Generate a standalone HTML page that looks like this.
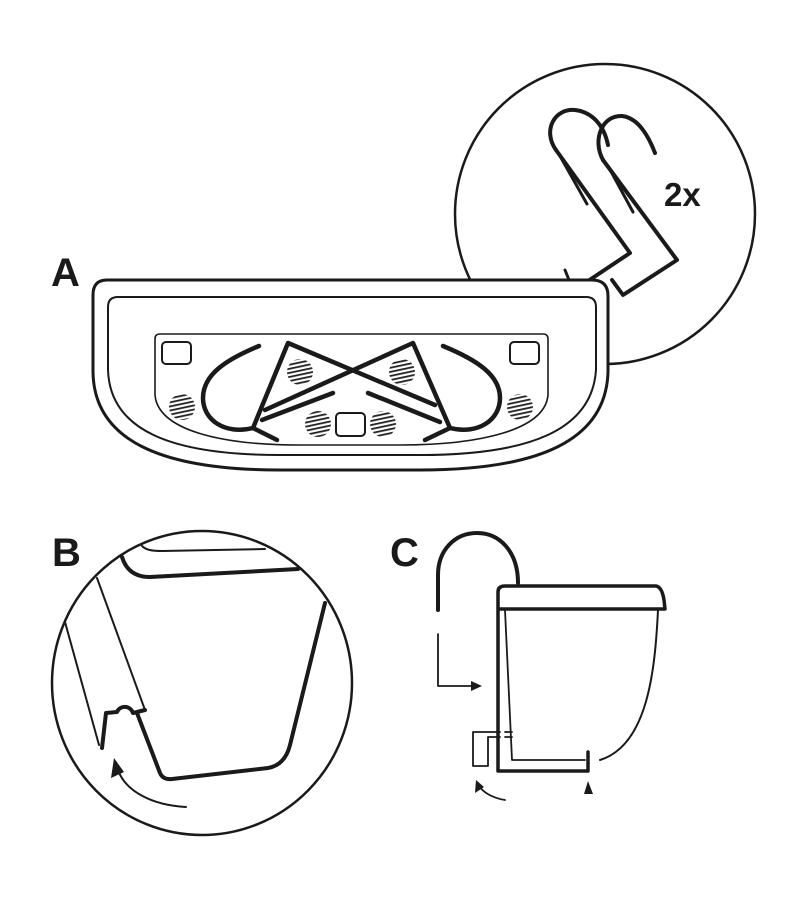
<!DOCTYPE html>
<html><head><meta charset="utf-8"><style>
html,body{margin:0;padding:0;background:#fff}
svg{display:block}
text{font-family:"Liberation Sans",sans-serif;font-weight:bold;fill:#1a1a1a}
</style></head><body>
<svg width="800" height="900" viewBox="0 0 800 900" xmlns="http://www.w3.org/2000/svg">
<defs>
<pattern id="h" width="4" height="4" patternUnits="userSpaceOnUse" patternTransform="rotate(-12)">
<rect width="4" height="1.8" fill="#222"/>
</pattern>
</defs>
<g fill="none" stroke="#1a1a1a" stroke-linecap="round" stroke-linejoin="round">
<circle cx="605" cy="214" r="150" stroke-width="2.5"/>
<path d="M556,150 C542,130 555,108 575,110 C592,112 604,125 608,145" stroke-width="4"/>
<path d="M556,150 L630,253 L585,283" stroke-width="4"/>
<path d="M560,156 L587,204" stroke-width="3"/>
<path d="M603,160 C592,140 602,115 622,116 C640,118 650,140 655,153" stroke-width="4"/>
<path d="M603,160 L677,260 L623,295 L612,280" stroke-width="4"/>
<path d="M608,166 L633,212" stroke-width="3"/>
<path d="M565,270 L569,280" stroke-width="3"/>
<path d="M107,280 L592,280 Q608,280 608,296 L608,372 C606,440 540,470 420,470 L280,470 C160,470 94,440 93,372 L93,295 Q93,280 107,280 Z" fill="#fff" stroke-width="3"/>
<path d="M118,297 L586,297 Q596,297 596,307 L596,370 C592,430 530,455 420,455 L280,455 C170,455 110,430 108,370 L108,307 Q108,297 118,297 Z" stroke-width="2"/>
<path d="M160,334 L543,334 Q548,334 548,339 L548,395 C545,430 480,445 400,445 L300,445 C220,445 158,430 155,395 L155,339 Q155,334 160,334 Z" stroke-width="1.6"/>
<rect x="162" y="342" width="29" height="22" rx="4" stroke-width="2"/>
<rect x="510" y="342" width="29" height="22" rx="4" stroke-width="2"/>
<rect x="336" y="413" width="29" height="23" rx="4" stroke-width="2"/>
<path d="M259,346 C225,360 203,375 203,398 C203,420 225,435 253,428" stroke-width="4.5"/>
<path d="M443,346 C477,360 500,375 500,398 C500,420 478,435 450,428" stroke-width="4.5"/>
<path d="M253,428 L288,343 L435,405" stroke-width="4.5"/>
<path d="M450,428 L413,343 L265,410" stroke-width="4.5"/>
<path d="M333,393 L262,420" stroke-width="4.5"/>
<path d="M368,393 L440,422" stroke-width="4.5"/>
<path d="M253,428 L277,440" stroke-width="4.5"/>
<path d="M450,428 L425,440" stroke-width="4.5"/>
</g>
<g fill="url(#h)">
<circle cx="182" cy="407" r="13"/><circle cx="300" cy="372" r="13"/><circle cx="402" cy="372" r="13"/>
<circle cx="318" cy="424" r="13"/><circle cx="383" cy="424" r="13"/><circle cx="520" cy="407" r="13"/>
</g>
<text x="51" y="286" font-size="40">A</text>
<text x="664" y="206" font-size="33">2x</text>

<text x="52" y="566" font-size="40">B</text>
<g fill="none" stroke="#1a1a1a" stroke-linecap="round" stroke-linejoin="round">
<ellipse cx="202" cy="683" rx="150" ry="152" stroke-width="2.5"/>
<path d="M65,622 L99,745" stroke-width="2"/>
<path d="M97,578 L145,710" stroke-width="2"/>
<path d="M145,710 L133,713 C130,705 120,705 117,712 L106,713 L102,748" stroke-width="4"/>
<path d="M137,713 L160,773 Q163,780 172,779 L268,768 Q285,765 290,745 L325,603" stroke-width="4"/>
<path d="M122,557 C126,570 135,577 150,577 L298,569" stroke-width="4"/>
<path d="M142,546 C146,550 152,551 162,551 L265,549" stroke-width="2"/>
<path d="M186,807 C150,805 125,790 118,770" stroke-width="2"/>
</g>
<path d="M114,758 L111,778 L124,772 Z" fill="#1a1a1a"/>

<text x="390" y="566" font-size="40">C</text>
<g fill="none" stroke="#1a1a1a" stroke-linecap="round" stroke-linejoin="round">
<path d="M438,610 L438,575 C438,550 455,533 477,533 C500,533 518,552 518,583" stroke-width="4"/>
<path d="M498,770 L498,592 Q498,586 505,586 L656,586 Q662,587 664,600 L665,609 M500,609 L664,609" stroke-width="3.5"/>
<path d="M498,771 L588,771 L588,752" stroke-width="3.5"/>
<path d="M505,610 L512,760 L585,760" stroke-width="1.8"/>
<path d="M658,610 C655,670 648,745 600,760" stroke-width="2"/>
<path d="M473,732 L500,732 M488,737 L500,737 M488,737 L488,766 L473,766 L473,732" stroke-width="1.8"/>
<path d="M505,732 L512,732 M505,737 L512,737" stroke-width="1.8"/>
<path d="M438,634 L438,686 L472,686" stroke-width="1.8"/>
<path d="M505,800 C492,798 483,792 479,786" stroke-width="1.8"/>
</g>
<path d="M471,681 L482,686 L471,691 Z" fill="#1a1a1a"/>
<path d="M476,780 L475,793 L484,787 Z" fill="#1a1a1a"/>
<path d="M588,781 L584,794 L593,794 Z" fill="#1a1a1a"/>
</svg>
</body></html>
